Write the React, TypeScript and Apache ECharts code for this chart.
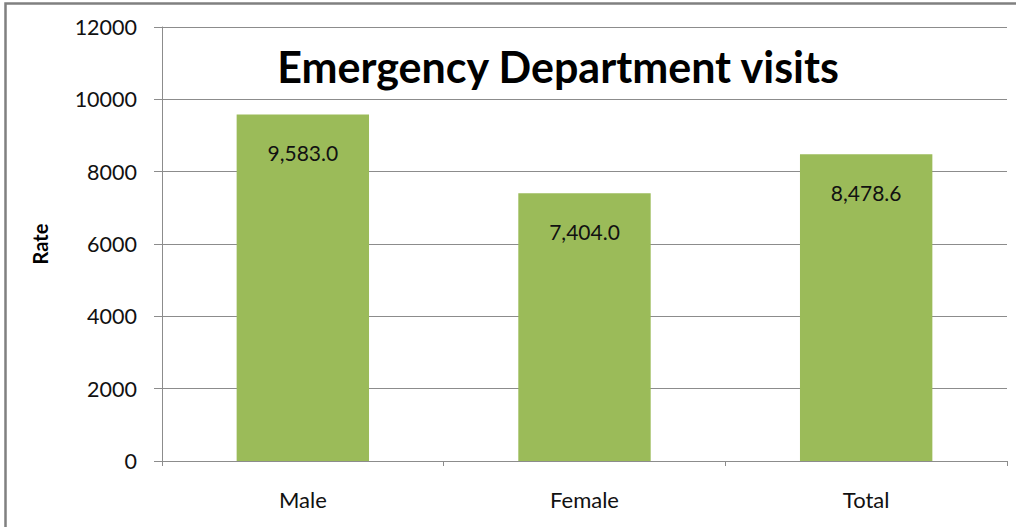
import React, { useEffect, useRef } from "react";
import * as echarts from "echarts";

const categories = ["Male", "Female", "Total"];
const rates = [9583.0, 7404.0, 8478.6];
const titleText = "Emergency Department visits";
const yAxisName = "Rate";

export default function App() {
  const ref = useRef<HTMLDivElement>(null);
  useEffect(() => {
    if (!ref.current) return;
    const chart = echarts.init(ref.current, null, { renderer: "svg" });
    const font = "Lato";
    chart.setOption({
      animation: false,
      backgroundColor: "#ffffff",
      title: {
        text: titleText,
        left: 553,
        top: 40,
        textAlign: "center",
        textStyle: { fontFamily: font, fontWeight: "bold", fontSize: 43, color: "#000" },
      },
      graphic: [
        {
          type: "rect",
          shape: { x: 5.5, y: 3.5, width: 1100, height: 700 },
          style: { fill: "none", stroke: "#808080", lineWidth: 2.5 },
          silent: true,
        },
      ],
      grid: { left: 162, right: 9, top: 27, bottom: 66 },
      xAxis: {
        type: "category",
        data: categories,
        boundaryGap: true,
        axisLine: { show: true, lineStyle: { color: "#8c8c8c", width: 1 } },
        axisTick: { show: true, length: 5, interval: 0, lineStyle: { color: "#8c8c8c" } },
        axisLabel: { fontFamily: font, fontSize: 22, color: "#111", margin: 27 },
      },
      yAxis: {
        type: "value",
        min: 0,
        max: 12000,
        interval: 2000,
        name: yAxisName,
        nameLocation: "middle",
        nameGap: 112,
        nameRotate: 90,
        nameTextStyle: { fontFamily: font, fontWeight: "bold", fontSize: 20, color: "#000" },
        axisLine: { show: true, lineStyle: { color: "#8c8c8c", width: 1 } },
        axisTick: { show: true, length: 8, inside: false, lineStyle: { color: "#8c8c8c" } },
        splitLine: { show: true, lineStyle: { color: "#8c8c8c", width: 1 } },
        axisLabel: {
          fontFamily: font,
          fontSize: 21.5,
          color: "#111",
          margin: 25,
          formatter: (v: number) => String(v),
        },
      },
      series: [
        {
          type: "bar",
          data: rates,
          barWidth: "47%",
          itemStyle: { color: "#9BBB59" },
          label: {
            show: true,
            position: "insideTop",
            distance: 28,
            fontFamily: font,
            fontSize: 21,
            color: "#111",
            formatter: (p: any) =>
              Number(p.value).toLocaleString("en-US", { minimumFractionDigits: 1, maximumFractionDigits: 1 }),
          },
        },
      ],
    });
    return () => chart.dispose();
  }, []);
  return (
    <div
      ref={ref}
      style={{ position: "fixed", left: 0, top: 0, width: 1016, height: 527 }}
    />
  );
}
